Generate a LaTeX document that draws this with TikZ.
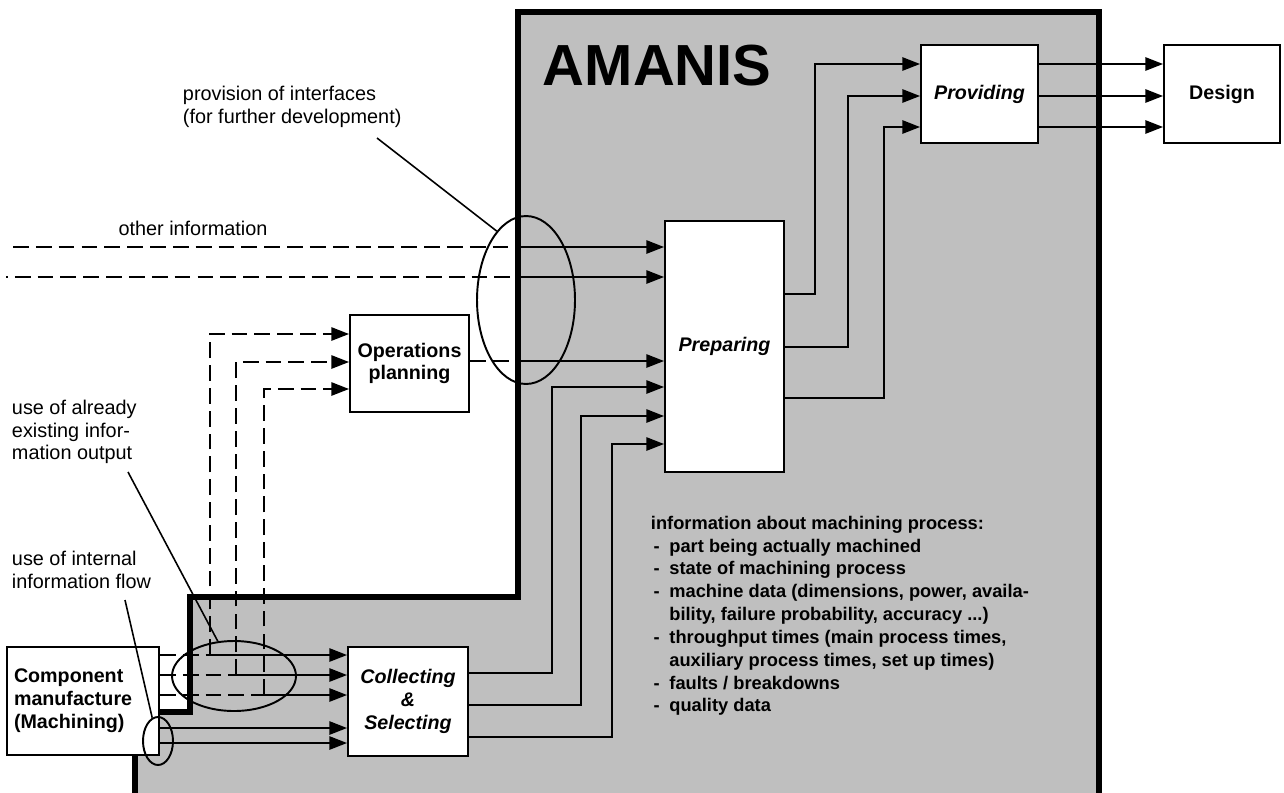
\documentclass[tikz,border=0pt]{standalone}
\usepackage{fontspec}
\setmainfont{Liberation Sans}
\usetikzlibrary{arrows.meta,shapes.geometric}
\newcommand{\procitem}{\makebox[10.5pt][l]{\hspace{1.5pt}-}}
\newcommand{\proccont}{\hspace*{10.5pt}}

\begin{document}
\begin{tikzpicture}[x=0.02cm,y=-0.02cm,line width=1.1pt,
  box/.style={draw,fill=white,inner sep=0pt,align=center,font=\fontsize{11.2}{13}\selectfont\bfseries},
  boxit/.style={box,font=\fontsize{11.2}{13}\selectfont\bfseries\itshape},
  arr/.style={-{Triangle[length=10pt,width=7.5pt]}},
  dashln/.style={dash pattern=on 9pt off 4pt},
  ring/.style={draw,ellipse,inner sep=0pt},
  note/.style={align=left,inner sep=0pt,font=\fontsize{11.3}{13}\selectfont},
  pointer/.style={line width=0.9pt}]
  \useasboundingbox (0,0) rectangle (1284,792);
  \clip (0,0) rectangle (1284,792);
  % AMANIS area
  \fill[black!25] (518,12) -- (1099,12) -- (1099,810) -- (135,810) -- (135,712) -- (190,712)
    -- (190,597) -- (518,597) -- cycle;
  \draw[line width=2.9pt] (135,810) -- (135,712) -- (190,712) -- (190,597) -- (518,597)
    -- (518,12) -- (1099,12) -- (1099,810);
  \node[font=\fontsize{33}{33}\selectfont\bfseries,anchor=base west,inner sep=0pt] (amanis) at (542,85) {AMANIS};
  \coordinate (bd) at (518,0);

  % boxes
  \node[boxit,minimum width=2.34cm,minimum height=1.96cm] (prov) at (979.5,94) {Providing};
  \node[box,minimum width=2.32cm,minimum height=1.96cm] (design) at (1222,94) {Design};
  \node[boxit,minimum width=2.38cm,minimum height=5.02cm] (prep) at (724.5,346.5) {Preparing};
  \node[box,minimum width=2.38cm,minimum height=1.94cm] (oplan) at (409.5,363.5) {Operations\\planning};
  \node[boxit,minimum width=2.40cm,minimum height=2.18cm] (collsel) at (408,701.5) {Collecting\\\&\\Selecting};
  \node[box,minimum width=3.04cm,minimum height=2.16cm,text width=2.76cm,align=left] (compman) at (83,701)
    {Component\\manufacture\\(Machining)};

  % providing -> design
  \draw[arr] (prov.east |- 0,64) -- (design.west |- 0,64);
  \draw[arr] (prov.east |- 0,96) -- (design.west |- 0,96);
  \draw[arr] (prov.east |- 0,127) -- (design.west |- 0,127);

  % preparing -> providing
  \draw[arr] (prep.east |- 0,294) -| (815,64) -- (prov.west |- 0,64);
  \draw[arr] (prep.east |- 0,347) -| (848,96) -- (prov.west |- 0,96);
  \draw[arr] (prep.east |- 0,398) -| (884,127) -- (prov.west |- 0,127);

  % other information
  \coordinate (oi1) at (13,247);
  \coordinate (oi2) at (6,277);
  \draw[dashln] (oi1) -- (bd |- oi1);
  \draw[arr] (bd |- oi1) -- (prep.west |- oi1);
  \draw[dashln,dash phase=8pt] (oi2) -- (bd |- oi2);
  \draw[arr] (bd |- oi2) -- (prep.west |- oi2);

  % operations planning -> preparing
  \draw[dashln] (oplan.east |- 0,361) -- (bd |- 0,361);
  \draw[arr] (bd |- 0,361) -- (prep.west |- 0,361);

  % collecting -> preparing
  \draw[arr] (collsel.east |- 0,673) -| (552,387) -- (prep.west |- 0,387);
  \draw[arr] (collsel.east |- 0,705) -| (581,416) -- (prep.west |- 0,416);
  \draw[arr] (collsel.east |- 0,737) -| (612,444) -- (prep.west |- 0,444);

  % machining output, branched to operations planning
  \coordinate (br1) at (210,655);
  \coordinate (br2) at (236,675);
  \coordinate (br3) at (264,695);
  \draw[dashln] (compman.east |- br1) -- (br1);
  \draw[dashln] (compman.east |- br2) -- (br2);
  \draw[dashln] (compman.east |- br3) -- (br3);
  \draw[arr] (br1) -- (collsel.west |- br1);
  \draw[arr] (br2) -- (collsel.west |- br2);
  \draw[arr] (br3) -- (collsel.west |- br3);
  \draw[dashln,arr] (br1) |- (oplan.west |- 0,334);
  \draw[dashln,arr] (br2) |- (oplan.west |- 0,362);
  \draw[dashln,arr] (br3) |- (oplan.west |- 0,389);

  % internal flow
  \draw[arr] (compman.east |- 0,728) -- (collsel.west |- 0,728);
  \draw[arr] (compman.east |- 0,743) -- (collsel.west |- 0,743);

  % rings
  \node[ring,minimum width=1.96cm,minimum height=3.36cm] (ifc) at (526,300) {};
  \node[ring,minimum width=2.48cm,minimum height=1.40cm] (oldout) at (234,676) {};
  \node[ring,minimum width=0.60cm,minimum height=0.96cm] (intflow) at (158,741) {};

  % notes
  \node[note,anchor=west] (ifcnote) at (182,106.5) {provision of interfaces\\(for further development)};
  \node[note] (othinfo) at (193,228) {other information};
  \node[note,anchor=west] (oldnote) at (11,432) {use of already\\existing infor-\\mation output};
  \node[note,anchor=west] (intnote) at (11,570) {use of internal\\information flow};
  \coordinate (ifcp) at (377,138);
  \coordinate (oldp) at (128,472);
  \coordinate (intp) at (125,600);
  \draw[pointer] (ifcp) -- (ifc.113);
  \draw[pointer] (oldp) -- (oldout.115);
  \draw[pointer] (intp) -- (intflow.104);

  % machining process information
  \node[anchor=north west,align=left,inner sep=0pt,font=\fontsize{10.4}{13}\selectfont\bfseries] (procinfo) at (650,515)
    {information about machining process:\\
     \procitem part being actually machined\\
     \procitem state of machining process\\
     \procitem machine data (dimensions, power, availa-\\
     \proccont bility, failure probability, accuracy ...)\\
     \procitem throughput times (main process times,\\
     \proccont auxiliary process times, set up times)\\
     \procitem faults / breakdowns\\
     \procitem quality data};
\end{tikzpicture}
\end{document}
